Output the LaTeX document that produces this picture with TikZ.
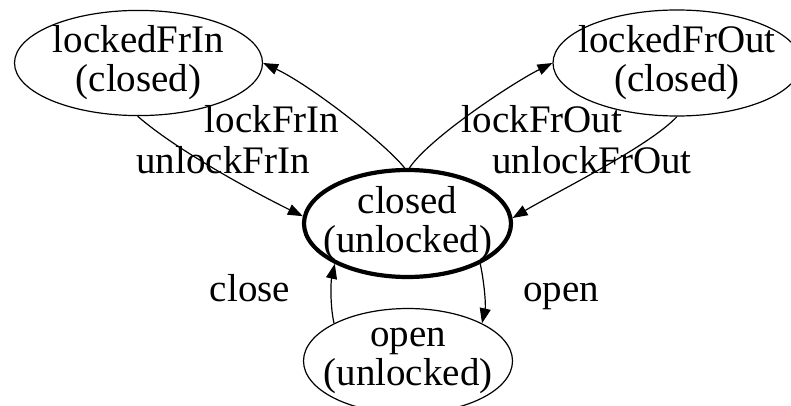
\documentclass[tikz,border=0pt]{standalone}
\usepackage{fontspec}
\setmainfont{Liberation Serif}
\usetikzlibrary{shapes.geometric,arrows.meta}
\begin{document}
\begin{tikzpicture}[x=1pt,y=-1pt,
  statebox/.style={ellipse,draw,line width=1.2pt,inner xsep=-20pt,inner ysep=0pt,align=center,
    font=\fontsize{39}{39}\selectfont},
  homestate/.style={statebox,line width=4.2pt},
  edge/.style={line width=1.2pt,-{Triangle[length=15pt,width=11pt]}},
  lbl/.style={anchor=base,inner sep=0pt,font=\fontsize{39}{39}\selectfont}]
\clip (0,0) rectangle (791,406);

% states
\node[statebox,minimum width=248pt,minimum height=105pt] (lockedFrIn) at (138.5,63) {lockedFrIn\\(closed)};
\node[statebox,minimum width=248pt,minimum height=106pt] (lockedFrOut) at (677,63) {lockedFrOut\\(closed)};
\node[homestate,minimum width=207pt,minimum height=107pt] (closed) at (407.5,223.5) {closed\\(unlocked)};
\node[statebox,minimum width=209pt,minimum height=105pt] (open) at (408,361) {open\\(unlocked)};

% transitions
\draw[edge] (closed.93) .. controls +(-20,-25) and +(47,22) .. (lockedFrIn.0);
\draw[edge] (lockedFrIn.-91) .. controls +(40,35) and +(-45,-22) .. (closed.176);
\draw[edge] (closed.88) .. controls +(20,-30) and +(-40,20) .. (lockedFrOut.180);
\draw[edge] (lockedFrOut.-90) .. controls +(-28,30) and +(42,-25) .. (closed.3);
\draw[edge] (open.153) .. controls +(-4,-18) and +(-4,18) .. (closed.209);
\draw[edge] (closed.-29) .. controls +(4,18) and +(4,-18) .. (open.27);

% transition labels
\node[lbl] (tLockIn) at (272,133) {lockFrIn};
\node[lbl] (tUnlockIn) at (223,173) {unlockFrIn};
\node[lbl] (tLockOut) at (542,133) {lockFrOut};
\node[lbl] (tUnlockOut) at (592,173) {unlockFrOut};
\node[lbl] (tClose) at (250,301) {close};
\node[lbl] (tOpen) at (561,301) {open};
\end{tikzpicture}
\end{document}
